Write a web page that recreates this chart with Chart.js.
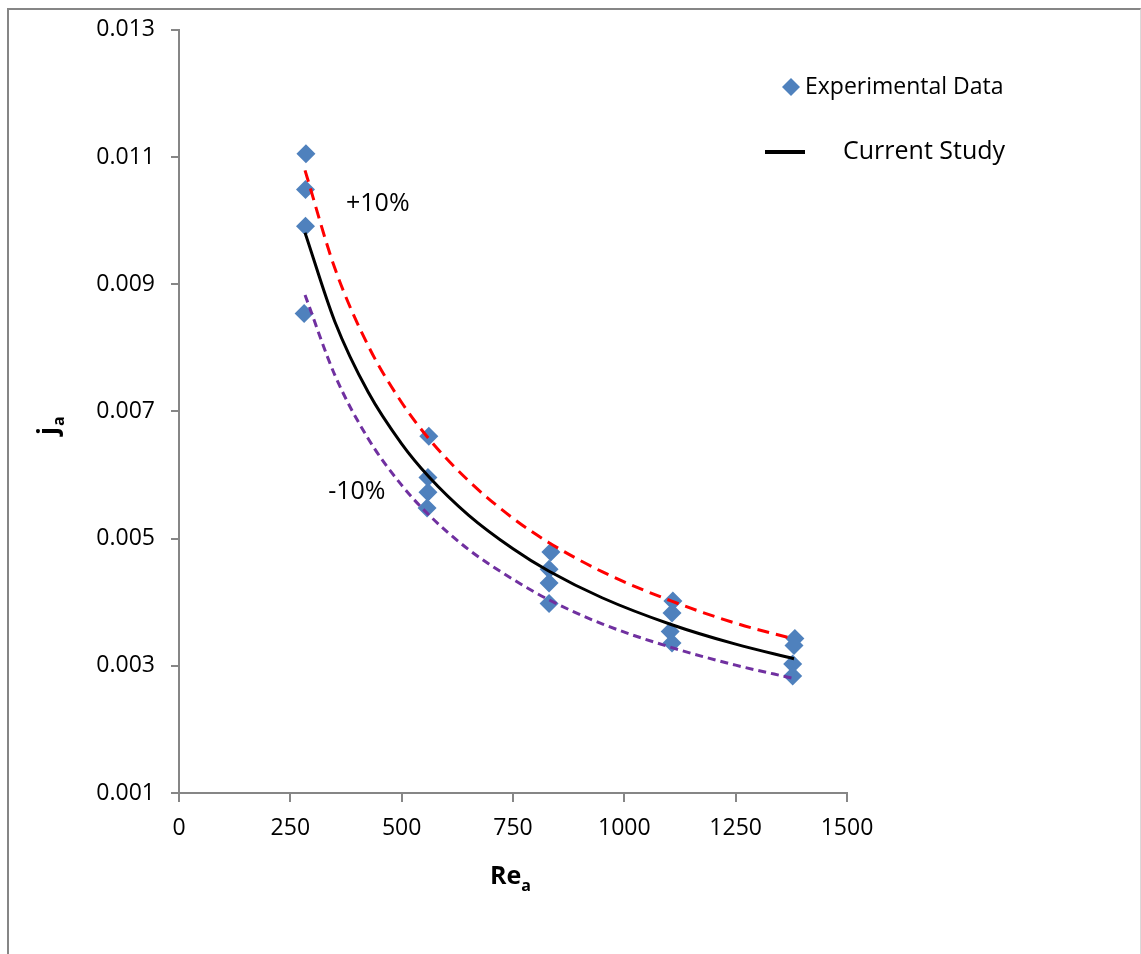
<!DOCTYPE html>
<html>
<head>
<meta charset="utf-8">
<script src="https://cdn.jsdelivr.net/npm/chart.js@4.4.0/dist/chart.umd.min.js"></script>
<style>
  html, body { margin: 0; padding: 0; background: #fff; }
  #wrap { position: relative; width: 1141px; height: 954px; overflow: hidden; }
  #frame {
    position: absolute; left: 7px; top: 8px; width: 1131px; height: 990px;
    border-left: 2px solid #868686; border-top: 2px solid #868686; border-right: 1px solid #d9d9d9;
  }
  canvas { position: absolute; left: 0; top: 0; }
</style>
</head>
<body>
<div id="wrap">
  <div id="frame"></div>
  <canvas id="chart" width="1141" height="954"></canvas>
</div>
<script>
// 实验数据 (Re_a, j_a)
const expRe = [285, 284, 284, 281, 561, 559, 559, 557, 835, 831, 831, 831, 1109, 1107, 1103, 1107, 1383, 1381, 1378, 1378];
const expJ = [0.01105, 0.01049, 0.00991, 0.00854, 0.00661, 0.00596, 0.00573, 0.00548, 0.00479, 0.00452, 0.00430, 0.00398,
              0.00402, 0.00383, 0.00354, 0.00336, 0.00343, 0.00332, 0.00303, 0.00284];

// current study curve and +/-10% bands
const curveRe = [283, 350, 425, 500, 560, 650, 750, 830, 950, 1105, 1250, 1381];
const curveJ = [0.00981, 0.00841, 0.00730, 0.00649, 0.00598, 0.00537, 0.00484, 0.00449, 0.00407, 0.00365, 0.00334, 0.00311];
const plusJ = [0.01079, 0.00925, 0.00803, 0.00714, 0.00658, 0.00591, 0.00532, 0.00494, 0.00448, 0.00402, 0.00367, 0.00342];
const minusJ = [0.00883, 0.00757, 0.00657, 0.00584, 0.00538, 0.00483, 0.00436, 0.00404, 0.00366, 0.00329, 0.00301, 0.00280];

const xTicks = [0, 250, 500, 750, 1000, 1250, 1500];
const yTicks = [0.001, 0.003, 0.005, 0.007, 0.009, 0.011, 0.013];

const FONT = '"Open Sans", "Liberation Sans", sans-serif';
const AXIS_GRAY = '#868686';

function pts(xs, ys) {
    return xs.map((x, i) => ({ x: x, y: ys[i] }));
}

// 图例、标注、坐标轴标题
const overlayText = {
    id: 'overlayText',
    afterDraw(chart) {
        const ctx = chart.ctx;
        const xs = chart.scales.x, ys = chart.scales.y;
        ctx.save();
        ctx.fillStyle = '#000';
        ctx.textBaseline = 'middle';
        ctx.textAlign = 'left';
        ctx.font = '25px ' + FONT;
        ctx.fillText('+10%', xs.getPixelForValue(375), ys.getPixelForValue(0.01027));
        ctx.fillText('-10%', xs.getPixelForValue(335), ys.getPixelForValue(0.00573));

        // legend
        ctx.fillStyle = '#4F81BD';
        ctx.beginPath();
        ctx.moveTo(782, 87); ctx.lineTo(791, 78); ctx.lineTo(800, 87); ctx.lineTo(791, 96);
        ctx.closePath();
        ctx.fill();
        ctx.fillStyle = '#000';
        ctx.font = '23px ' + FONT;
        ctx.fillText('Experimental Data', 805, 87);
        ctx.strokeStyle = '#000';
        ctx.lineWidth = 4;
        ctx.beginPath();
        ctx.moveTo(765, 152); ctx.lineTo(805, 152);
        ctx.stroke();
        ctx.font = '25px ' + FONT;
        ctx.fillText('Current Study', 843, 152);

        // x title Re_a
        ctx.textBaseline = 'alphabetic';
        ctx.font = 'bold 25px ' + FONT;
        ctx.fillText('Re', 490, 884);
        const wRe = ctx.measureText('Re').width;
        ctx.font = 'bold 16px ' + FONT;
        ctx.fillText('a', 490 + wRe, 891);

        // y title j_a
        ctx.translate(57, 428);
        ctx.rotate(-Math.PI / 2);
        ctx.font = 'bold 26px ' + FONT;
        ctx.fillText('j', -7, 0);
        const wj = ctx.measureText('j').width;
        ctx.font = 'bold 16px ' + FONT;
        ctx.fillText('a', -7 + wj + 1, 7);
        ctx.restore();
    }
};

new Chart(document.getElementById('chart'), {
    type: 'scatter',
    data: {
        datasets: [
            {
                label: 'Experimental Data',
                data: pts(expRe, expJ),
                pointStyle: 'rectRot',
                pointRadius: 9.5,
                pointHoverRadius: 9.5,
                backgroundColor: '#4F81BD',
                borderColor: '#4F81BD',
                borderWidth: 0,
                showLine: false,
                order: 2
            },
            {
                label: 'Current Study',
                data: pts(curveRe, curveJ),
                showLine: true,
                borderColor: '#000',
                borderWidth: 3,
                pointRadius: 0,
                cubicInterpolationMode: 'monotone',
                order: 1
            },
            {
                label: '+10%',
                data: pts(curveRe, plusJ),
                showLine: true,
                borderColor: '#FF0000',
                borderWidth: 3,
                borderDash: [12, 7],
                pointRadius: 0,
                cubicInterpolationMode: 'monotone',
                order: 1
            },
            {
                label: '-10%',
                data: pts(curveRe, minusJ),
                showLine: true,
                borderColor: '#7030A0',
                borderWidth: 3,
                borderDash: [8, 5],
                pointRadius: 0,
                cubicInterpolationMode: 'monotone',
                order: 1
            }
        ]
    },
    options: {
        responsive: false,
        animation: false,
        events: [],
        layout: { padding: { left: 0, right: 294, top: 29, bottom: 0 } },
        plugins: {
            legend: { display: false },
            tooltip: { enabled: false }
        },
        scales: {
            x: {
                type: 'linear',
                min: 0,
                max: 1500,
                afterFit: s => { s.height = 161; },
                afterBuildTicks: s => { s.ticks = xTicks.map(v => ({ value: v })); },
                grid: { drawOnChartArea: false, drawTicks: true, tickLength: 9, color: AXIS_GRAY, lineWidth: 2 },
                border: { color: AXIS_GRAY, width: 2 },
                ticks: {
                    color: '#000',
                    padding: 13,
                    maxRotation: 0,
                    font: { family: FONT, size: 23 },
                    callback: v => String(v)
                }
            },
            y: {
                type: 'linear',
                min: 0.001,
                max: 0.013,
                afterFit: s => { s.width = 179; },
                afterBuildTicks: s => { s.ticks = yTicks.map(v => ({ value: v })); },
                grid: { drawOnChartArea: false, drawTicks: true, tickLength: 8, color: AXIS_GRAY, lineWidth: 2 },
                border: { color: AXIS_GRAY, width: 2 },
                ticks: {
                    color: '#000',
                    padding: 16,
                    font: { family: FONT, size: 23 },
                    callback: v => v.toFixed(3)
                }
            }
        }
    },
    plugins: [overlayText]
});
</script>
</body>
</html>
